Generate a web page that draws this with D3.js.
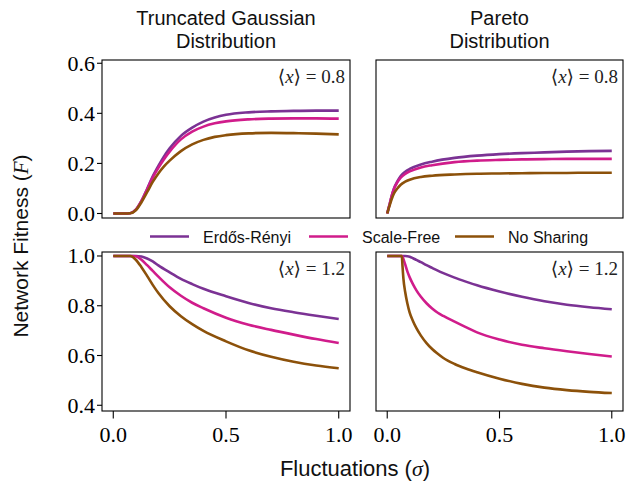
<!DOCTYPE html>
<html>
<head>
<meta charset="utf-8">
<script src="https://cdn.jsdelivr.net/npm/d3@7"></script>
<style>
  html, body { margin: 0; padding: 0; background: #fff; }
  svg { display: block; }
</style>
</head>
<body>
<svg id="chart" width="627" height="485"></svg>
<script>
// ---------------- DATA ----------------
const seriesNames = ["Erdős-Rényi", "Scale-Free", "No Sharing"];
const seriesColors = ["#7b3294", "#d01c8b", "#8c510a"];

const xTickValues = [0, 0.5, 1.0];
const xTickLabels = ["0.0", "0.5", "1.0"];
const yTicksTop = [0.0, 0.2, 0.4, 0.6];
const yTickLabelsTop = ["0.0", "0.2", "0.4", "0.6"];
const yTicksBottom = [0.4, 0.6, 0.8, 1.0];
const yTickLabelsBottom = ["0.4", "0.6", "0.8", "1.0"];

const columnTitles = [["Truncated Gaussian", "Distribution"], ["Pareto", "Distribution"]];
const rowMeans = ["0.8", "1.2"];

// Truncated Gaussian, <x> = 0.8
const sigmaGaussLow = [0, 0.05, 0.075, 0.1, 0.125, 0.15, 0.175, 0.2, 0.225, 0.25, 0.3, 0.35, 0.4, 0.45, 0.5, 0.6, 0.7, 0.8, 0.9, 1.0];
const gaussLowER = [0, 0, 0.001, 0.015, 0.05, 0.098, 0.148, 0.19, 0.228, 0.26, 0.31, 0.343, 0.367, 0.383, 0.394, 0.404, 0.408, 0.41, 0.411, 0.411];
const gaussLowSF = [0, 0, 0.001, 0.015, 0.05, 0.096, 0.143, 0.182, 0.217, 0.247, 0.296, 0.327, 0.347, 0.36, 0.368, 0.376, 0.379, 0.38, 0.38, 0.379];
const gaussLowNS = [0, 0, 0.001, 0.013, 0.045, 0.085, 0.126, 0.16, 0.188, 0.211, 0.249, 0.276, 0.294, 0.306, 0.313, 0.32, 0.322, 0.321, 0.319, 0.316];

// Pareto, <x> = 0.8
const sigmaParetoLow = [0, 0.01, 0.02, 0.03, 0.045, 0.06, 0.08, 0.1, 0.15, 0.2, 0.3, 0.4, 0.5, 0.6, 0.7, 0.8, 0.9, 1.0];
const paretoLowER = [0, 0.035, 0.07, 0.1, 0.128, 0.15, 0.167, 0.178, 0.196, 0.207, 0.222, 0.231, 0.237, 0.241, 0.244, 0.247, 0.249, 0.25];
const paretoLowSF = [0, 0.035, 0.07, 0.098, 0.124, 0.143, 0.158, 0.168, 0.184, 0.193, 0.205, 0.211, 0.214, 0.216, 0.217, 0.218, 0.218, 0.218];
const paretoLowNS = [0, 0.03, 0.058, 0.08, 0.1, 0.115, 0.127, 0.135, 0.146, 0.151, 0.156, 0.159, 0.16, 0.161, 0.162, 0.162, 0.163, 0.163];

// Truncated Gaussian, <x> = 1.2
const sigmaGaussHigh = [0, 0.05, 0.075, 0.1, 0.125, 0.15, 0.175, 0.2, 0.25, 0.3, 0.35, 0.4, 0.5, 0.6, 0.7, 0.8, 0.9, 1.0];
const gaussHighER = [1, 1, 1, 1, 0.998, 0.99, 0.978, 0.962, 0.934, 0.908, 0.887, 0.868, 0.838, 0.811, 0.79, 0.774, 0.76, 0.747];
const gaussHighSF = [1, 1, 1, 0.999, 0.985, 0.963, 0.94, 0.917, 0.874, 0.84, 0.812, 0.79, 0.752, 0.724, 0.703, 0.684, 0.666, 0.65];
const gaussHighNS = [1, 1, 1, 0.985, 0.955, 0.92, 0.884, 0.851, 0.798, 0.758, 0.726, 0.699, 0.657, 0.621, 0.595, 0.575, 0.56, 0.549];

// Pareto, <x> = 1.2
const sigmaParetoHigh = [0, 0.065, 0.068, 0.072, 0.08, 0.09, 0.1, 0.115, 0.13, 0.15, 0.175, 0.2, 0.225, 0.25, 0.3, 0.35, 0.4, 0.5, 0.6, 0.7, 0.8, 0.9, 1.0];
const paretoHighER = [1, 1, 1, 1, 1, 0.999, 0.997, 0.991, 0.984, 0.975, 0.963, 0.952, 0.941, 0.931, 0.913, 0.897, 0.882, 0.857, 0.836, 0.818, 0.804, 0.794, 0.786];
const paretoHighSF = [1, 1, 0.997, 0.988, 0.966, 0.937, 0.914, 0.886, 0.862, 0.836, 0.81, 0.789, 0.772, 0.759, 0.736, 0.714, 0.693, 0.664, 0.643, 0.629, 0.617, 0.606, 0.596];
const paretoHighNS = [1, 1, 0.96, 0.91, 0.855, 0.808, 0.772, 0.738, 0.71, 0.68, 0.65, 0.626, 0.607, 0.59, 0.566, 0.548, 0.533, 0.507, 0.486, 0.471, 0.461, 0.454, 0.449];

// ---------------- LAYOUT ----------------
const svg = d3.select("#chart");
const serif = "'Liberation Serif', 'DejaVu Serif', serif";
const sans = "'Liberation Sans', Arial, sans-serif";

const cols = [{left: 102, right: 350}, {left: 376, right: 623}];
const rows = [{top: 60, bottom: 218, domain: [-0.018, 0.613], ticks: yTicksTop, labels: yTickLabelsTop},
              {top: 252, bottom: 411, domain: [0.377, 1.016], ticks: yTicksBottom, labels: yTickLabelsBottom}];

const panels = [
  {r: 0, c: 0, x: sigmaGaussLow, ys: [gaussLowER, gaussLowSF, gaussLowNS]},
  {r: 0, c: 1, x: sigmaParetoLow, ys: [paretoLowER, paretoLowSF, paretoLowNS]},
  {r: 1, c: 0, x: sigmaGaussHigh, ys: [gaussHighER, gaussHighSF, gaussHighNS]},
  {r: 1, c: 1, x: sigmaParetoHigh, ys: [paretoHighER, paretoHighSF, paretoHighNS]}
];

panels.forEach(p => {
  const col = cols[p.c], row = rows[p.r];
  const xs = d3.scaleLinear().domain([-0.05, 1.05]).range([col.left, col.right]);
  const ys = d3.scaleLinear().domain(row.domain).range([row.bottom, row.top]);
  const g = svg.append("g");

  const line = d3.line().x(d => xs(d[0])).y(d => ys(d[1])).curve(d3.curveMonotoneX);
  p.ys.forEach((vals, i) => {
    g.append("path")
      .datum(p.x.map((s, k) => [s, vals[k]]))
      .attr("d", line)
      .attr("fill", "none")
      .attr("stroke", seriesColors[i])
      .attr("stroke-width", 2.6)
      .attr("stroke-linejoin", "round")
      .attr("stroke-linecap", "butt");
  });

  g.append("rect")
    .attr("x", col.left).attr("y", row.top)
    .attr("width", col.right - col.left).attr("height", row.bottom - row.top)
    .attr("fill", "none").attr("stroke", "#000").attr("stroke-width", 1.1);

  if (p.c === 0) {
    row.ticks.forEach((t, k) => {
      g.append("line").attr("x1", col.left - 5).attr("x2", col.left)
        .attr("y1", ys(t)).attr("y2", ys(t)).attr("stroke", "#000").attr("stroke-width", 1.1);
      g.append("text").attr("x", col.left - 7).attr("y", ys(t))
        .attr("text-anchor", "end").attr("dominant-baseline", "central")
        .attr("font-family", serif).attr("font-size", 22).text(row.labels[k]);
    });
  }
  if (p.r === 1) {
    xTickValues.forEach((t, k) => {
      g.append("line").attr("x1", xs(t)).attr("x2", xs(t))
        .attr("y1", row.bottom).attr("y2", row.bottom + 7.5).attr("stroke", "#000").attr("stroke-width", 1.1);
      g.append("text").attr("x", xs(t)).attr("y", 442)
        .attr("text-anchor", "middle")
        .attr("font-family", serif).attr("font-size", 22).text(xTickLabels[k]);
    });
  }

  const ann = g.append("text").attr("x", col.right - 5).attr("y", row.top + 23)
    .attr("text-anchor", "end").attr("font-family", serif).attr("font-size", 19).attr("fill", "#222");
  ann.append("tspan").text("\u27E8");
  ann.append("tspan").attr("font-style", "italic").text("x");
  ann.append("tspan").text("\u27E9 = " + rowMeans[p.r]);
});

columnTitles.forEach((lines, c) => {
  const cx = (cols[c].left + cols[c].right) / 2;
  lines.forEach((t, k) => {
    svg.append("text").attr("x", cx).attr("y", 25 + k * 23)
      .attr("text-anchor", "middle").attr("font-family", sans).attr("font-size", 20)
      .attr("fill", "#111").text(t);
  });
});

const legendItems = [{lx: 150, tx: 203}, {lx: 309, tx: 362}, {lx: 455, tx: 508}];
seriesNames.forEach((name, i) => {
  const it = legendItems[i];
  svg.append("line").attr("x1", it.lx).attr("x2", it.lx + 39)
    .attr("y1", 236.5).attr("y2", 236.5)
    .attr("stroke", seriesColors[i]).attr("stroke-width", 2.6);
  svg.append("text").attr("x", it.tx).attr("y", 242.5)
    .attr("font-family", sans).attr("font-size", 16).attr("fill", "#111").text(name);
});

const xl = svg.append("text").attr("x", 355).attr("y", 476).attr("text-anchor", "middle")
  .attr("font-family", sans).attr("font-size", 22).attr("fill", "#111");
xl.append("tspan").text("Fluctuations (");
xl.append("tspan").attr("font-family", serif).attr("font-style", "italic").text("σ");
xl.append("tspan").text(")");

const yl = svg.append("text").attr("transform", "translate(28,246) rotate(-90)")
  .attr("text-anchor", "middle").attr("font-family", sans).attr("font-size", 21).attr("fill", "#111");
yl.append("tspan").text("Network Fitness (");
yl.append("tspan").attr("font-family", serif).attr("font-style", "italic").text("F");
yl.append("tspan").text(")");
</script>
</body>
</html>
